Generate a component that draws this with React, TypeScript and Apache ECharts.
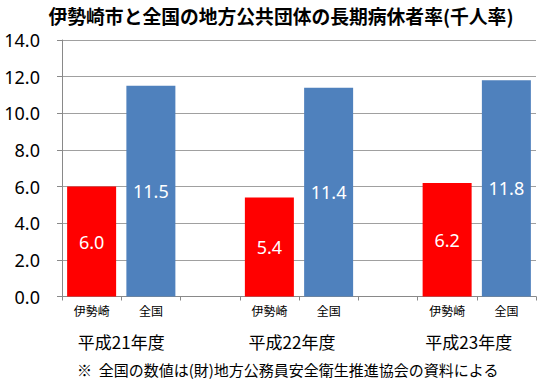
import React, { useEffect, useRef } from "react";
import * as echarts from "echarts";

const titleText = "伊勢崎市と全国の地方公共団体の長期病休者率(千人率)";
const footnote = "※  全国の数値は(財)地方公務員安全衛生推進協会の資料による";
const years = ["平成21年度", "平成22年度", "平成23年度"];
const subLabels = ["伊勢崎", "全国"];
const isesaki = [6.0, 5.4, 6.2];
const zenkoku = [11.5, 11.4, 11.8];
const yTicks = { min: 0, max: 14, interval: 2 };

const FONT = "'Noto Sans CJK JP', 'Noto Sans', sans-serif";

export default function App() {
  const ref = useRef<HTMLDivElement>(null);
  useEffect(() => {
    document.body.style.margin = "0";
    if (!ref.current) return;
    const chart = echarts.init(ref.current, null, { renderer: "svg" });

    // 8 slots: 伊勢崎, 全国, blank, 伊勢崎, 全国, blank, 伊勢崎, 全国
    const cats: string[] = [];
    const redData: any[] = [];
    const blueData: any[] = [];
    years.forEach((_, i) => {
      cats.push(subLabels[0], subLabels[1]);
      redData.push(isesaki[i], "-");
      blueData.push("-", zenkoku[i]);
      if (i < years.length - 1) {
        cats.push("");
        redData.push("-");
        blueData.push("-");
      }
    });
    // group label axis: 9 boundary points, labels at boundaries 1,4,7
    const groupCats: any[] = [];
    for (let k = 0; k <= cats.length; k++) groupCats.push("");
    const shifts = [0, 14, 16];
    years.forEach((y, i) => {
      groupCats[1 + i * 3] = {
        value: y,
        textStyle: { padding: [0, shifts[i], 0, 0] },
      };
    });

    chart.setOption({
      animation: false,
      backgroundColor: "#ffffff",
      graphic: [
        {
          type: "text",
          x: 281,
          y: 6,
          style: {
            text: titleText,
            align: "center",
            verticalAlign: "top",
            fontFamily: FONT,
            fontSize: 18.8,
            fontWeight: "bold",
            fill: "#000",
          },
        },
        {
          type: "text",
          x: 77,
          y: 362,
          style: {
            text: footnote,
            align: "left",
            verticalAlign: "top",
            fontFamily: FONT,
            fontSize: 15,
            fill: "#000",
          },
        },
      ],
      grid: { left: 62, right: 4, top: 40, bottom: 88.5, containLabel: false },
      xAxis: [
        {
          type: "category",
          data: cats,
          axisLine: { show: true, lineStyle: { color: "#898989", width: 1 } },
          axisTick: { show: true, length: 4, alignWithLabel: false, interval: 0, lineStyle: { color: "#898989" } },
          axisLabel: { interval: 0, margin: 8, fontSize: 12, fontFamily: FONT, color: "#000" },
        },
        {
          type: "category",
          data: groupCats,
          position: "bottom",
          boundaryGap: false,
          axisLine: { show: false },
          axisTick: { show: false },
          splitLine: { show: false },
          axisLabel: { interval: 0, margin: 36, fontSize: 17, fontFamily: FONT, color: "#000" },
        },
      ],
      yAxis: {
        type: "value",
        min: yTicks.min,
        max: yTicks.max,
        interval: yTicks.interval,
        axisLine: { show: true, lineStyle: { color: "#898989" } },
        axisTick: { show: true, length: 5, lineStyle: { color: "#898989" } },
        splitLine: { show: true, lineStyle: { color: "#a0a0a0", width: 1 } },
        axisLabel: {
          margin: 22,
          fontSize: 18,
          fontFamily: "'Noto Sans', sans-serif",
          color: "#000",
          formatter: (v: number) => v.toFixed(1),
        },
      },
      series: [
        {
          name: "伊勢崎",
          type: "bar",
          data: redData,
          barWidth: 49,
          barGap: "-100%",
          itemStyle: { color: "#FF0000" },
          label: {
            show: true,
            position: "inside",
            color: "#fff",
            fontSize: 18,
            fontFamily: "'Noto Sans', sans-serif",
            formatter: (p: any) => Number(p.value).toFixed(1),
          },
        },
        {
          name: "全国",
          type: "bar",
          data: blueData,
          barWidth: 49,
          barGap: "-100%",
          itemStyle: { color: "#4F81BD" },
          label: {
            show: true,
            position: "inside",
            color: "#fff",
            fontSize: 18,
            fontFamily: "'Noto Sans', sans-serif",
            formatter: (p: any) => Number(p.value).toFixed(1),
          },
        },
      ],
    });
    return () => chart.dispose();
  }, []);
  return <div ref={ref} style={{ width: 540, height: 385 }} />;
}
